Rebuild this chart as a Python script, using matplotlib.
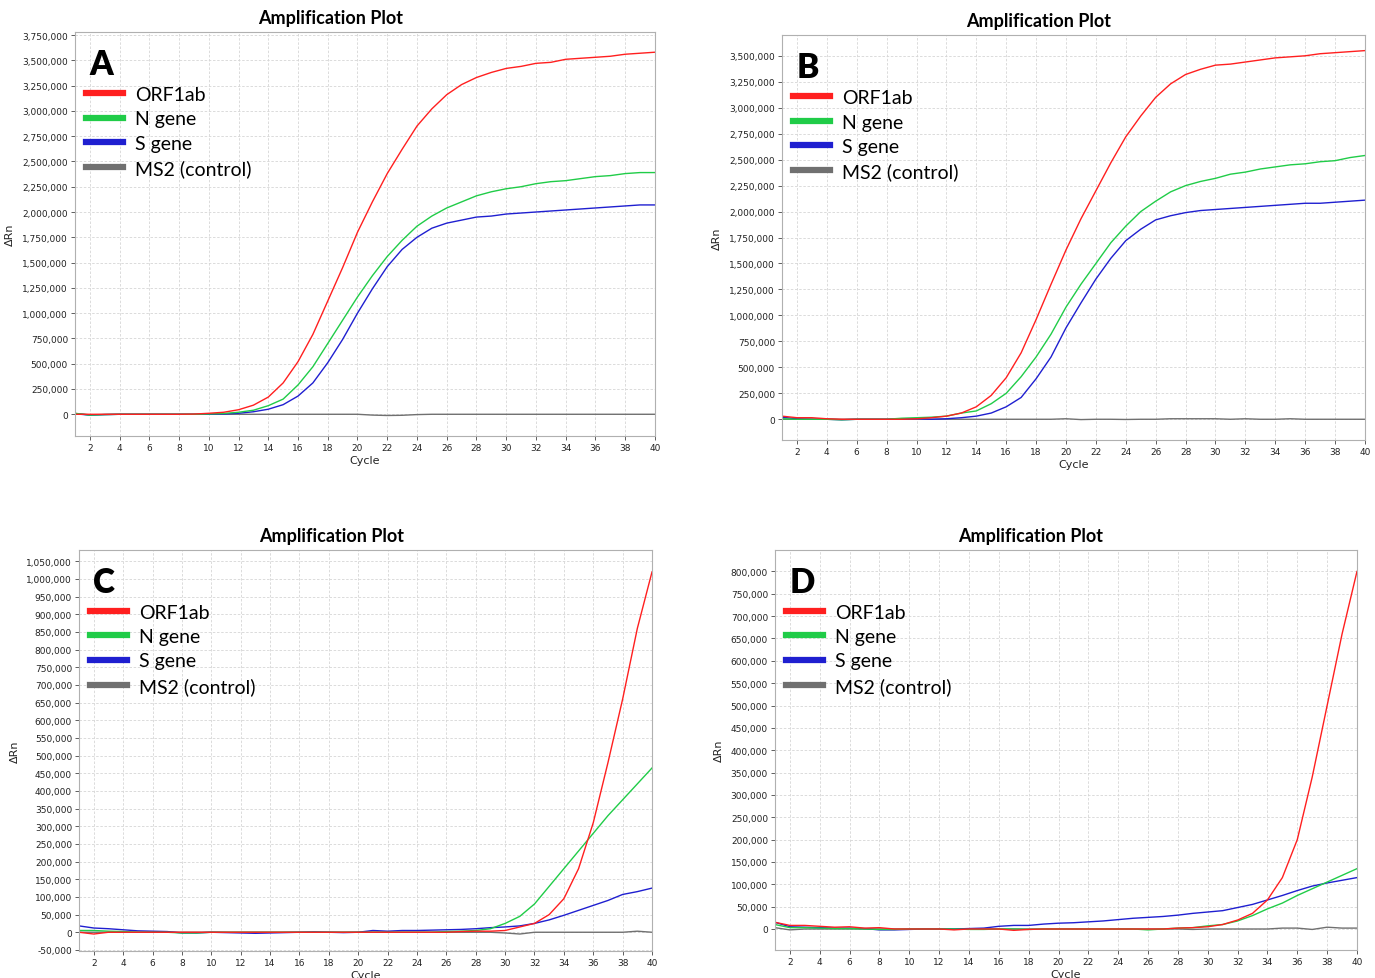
import numpy as np
import matplotlib.pyplot as plt
from matplotlib.lines import Line2D
from matplotlib.ticker import FuncFormatter

cycles = np.arange(1, 41)

# panel A
a_orf = [5, -5, 0, 0, 0, 0, 0, 0, 2000, 10000, 20000, 45000, 90000, 170000, 310000, 520000, 790000, 1120000,
         1450000, 1800000, 2100000, 2380000, 2620000, 2850000, 3020000, 3160000, 3260000, 3330000, 3380000,
         3420000, 3440000, 3470000, 3480000, 3510000, 3520000, 3530000, 3540000, 3560000, 3570000, 3580000]
a_n = [10000, -8000, -3000, 0, 0, 0, 0, 0, 0, 3000, 8000, 20000, 40000, 85000, 150000, 290000, 470000, 700000,
       930000, 1160000, 1370000, 1560000, 1720000, 1860000, 1960000, 2040000, 2100000, 2160000, 2200000,
       2230000, 2250000, 2280000, 2300000, 2310000, 2330000, 2350000, 2360000, 2380000, 2390000, 2390000]
a_s = [5000, -8000, -3000, 0, 0, 0, 0, 0, 0, 0, 3000, 10000, 25000, 50000, 95000, 180000, 310000, 510000,
       740000, 1000000, 1240000, 1460000, 1630000, 1750000, 1840000, 1890000, 1920000, 1950000, 1960000,
       1980000, 1990000, 2000000, 2010000, 2020000, 2030000, 2040000, 2050000, 2060000, 2070000, 2070000]
a_ms2 = [8000, -5000, -2000, 0, 0, 0, 0, 0, 0, 0, 0, 0, 0, 0, 0, 0, 0, 0, 0, 0, -8000, -12000, -10000, -3000,
         0, 0, 0, 0, 0, 0, 0, 0, 0, 0, 0, 0, 0, 0, 0, 0]

# panel B
b_orf = [30000, 15000, 15000, 5000, 0, 0, 0, 0, 0, 5000, 15000, 30000, 60000, 120000, 230000, 400000, 640000,
         960000, 1300000, 1630000, 1930000, 2200000, 2470000, 2720000, 2920000, 3100000, 3230000, 3320000,
         3370000, 3410000, 3420000, 3440000, 3460000, 3480000, 3490000, 3500000, 3520000, 3530000, 3540000, 3550000]
b_n = [5000, 0, 0, 0, -5000, 0, 0, 0, 10000, 15000, 20000, 30000, 60000, 80000, 150000, 250000, 410000, 600000,
       820000, 1080000, 1300000, 1500000, 1700000, 1860000, 2000000, 2100000, 2190000, 2250000, 2290000,
       2320000, 2360000, 2380000, 2410000, 2430000, 2450000, 2460000, 2480000, 2490000, 2520000, 2540000]
b_s = [20000, 5000, 0, 0, -5000, 0, 0, 0, 5000, 5000, 0, 5000, 15000, 30000, 60000, 120000, 210000, 390000,
       600000, 880000, 1120000, 1350000, 1550000, 1720000, 1830000, 1920000, 1960000, 1990000, 2010000,
       2020000, 2030000, 2040000, 2050000, 2060000, 2070000, 2080000, 2080000, 2090000, 2100000, 2110000]
b_ms2 = [0, 0, 0, 0, 0, 0, 0, 0, 0, 0, 0, 0, 0, 0, 0, 0, 0, 0, 0, 5000, -3000, 0, 0, -2000, 0, 0, 5000, 5000,
         5000, 5000, 0, 5000, 0, 0, 5000, 0, 0, 0, 0, 0]

# panel C
c_orf = [0, -5000, 0, 0, 0, 0, 0, 0, 0, 0, 0, 0, 0, 0, 0, 0, 0, 0, 0, 0, 0, 0, 0, 0, 0, 0, 2000, 3000,
         3000, 5000, 15000, 25000, 50000, 95000, 180000, 310000, 480000, 660000, 860000, 1020000]
c_n = [5000, 5000, 3000, 2000, 0, 0, 0, -2000, -2000, 0, 0, 0, 0, 0, 0, 0, 0, 0, 0, 0, 0, 0, 0, 0, 0, 2000,
       3000, 5000, 10000, 25000, 45000, 80000, 130000, 180000, 230000, 280000, 330000, 375000, 420000, 465000]
c_s = [18000, 12000, 10000, 7000, 4000, 3000, 2000, -2000, -2000, 0, -1000, -2000, -3000, -2000, -1000, 0,
       1000, 0, -1000, 0, 5000, 3000, 5000, 5000, 6000, 7000, 8000, 10000, 13000, 15000, 18000, 25000, 35000,
       48000, 62000, 76000, 90000, 107000, 115000, 125000]
c_ms2 = [0, 0, 0, 0, 0, 0, 0, 0, 0, 0, 0, 0, 0, 0, 0, 0, 0, 0, 0, 0, 0, 0, 0, 0, 0, 0, 0, 0, 0, -2000, -5000,
         0, 0, 0, 0, 0, 0, 0, 3000, 0]

# panel D
d_orf = [15000, 8000, 8000, 6000, 4000, 5000, 2000, 3000, 0, 0, 0, 0, -2000, 0, 0, 0, -3000, -1000, 0, 0, 0,
         0, 0, 0, 0, 0, 0, 2000, 3000, 5000, 10000, 20000, 35000, 65000, 115000, 200000, 340000, 500000,
         660000, 800000]
d_n = [10000, 3000, 3000, 2000, 1000, 1000, 0, -1000, -1000, 0, 0, 0, 0, -1000, -1000, 0, 0, -1000, 0, 0, 0,
       0, 0, 0, 0, -2000, 0, 2000, 3000, 7000, 10000, 18000, 30000, 45000, 58000, 75000, 90000, 105000,
       120000, 135000]
d_s = [15000, 5000, 4000, 3000, 2000, 2000, 1000, -2000, -2000, -1000, 0, 0, 0, 1000, 2000, 6000, 8000, 8000,
       11000, 13000, 14000, 16000, 18000, 21000, 24000, 26000, 28000, 31000, 35000, 38000, 41000, 48000,
       55000, 65000, 75000, 86000, 96000, 103000, 109000, 115000]
d_ms2 = [3000, -2000, 0, 0, 0, 0, 0, 0, 0, 0, 0, 0, 0, 0, 0, 0, 0, 0, 0, 0, 0, 0, 0, 0, 0, 0, 0, 0, -1000,
         0, 0, 0, 0, 0, 2000, 2000, -1000, 4000, 2000, 2000]

labels = ["ORF1ab", "N gene", "S gene", "MS2 (control)"]
colors = ["#ff1f1f", "#20cc48", "#1f1fd0", "#707070"]
letters = ["A", "B", "C", "D"]

panels = [
    ([a_orf, a_n, a_s, a_ms2], (-215000, 3780000), 250000, 0, 3750000),
    ([b_orf, b_n, b_s, b_ms2], (-200000, 3700000), 250000, 0, 3500000),
    ([c_orf, c_n, c_s, c_ms2], (-53000, 1082000), 50000, -50000, 1050000),
    ([d_orf, d_n, d_s, d_ms2], (-47000, 848000), 50000, 0, 800000),
]
rects = [
    [0.0545, 0.5536, 0.4218, 0.4127],
    [0.5687, 0.5495, 0.4240, 0.4137],
    [0.0575, 0.0276, 0.4167, 0.4096],
    [0.5636, 0.0286, 0.4233, 0.4086],
]

fig = plt.figure(figsize=(13.75, 9.79), dpi=100)

for i, (series, ylim, step, ymin_tick, ymax_tick) in enumerate(panels):
    ax = fig.add_axes(rects[i])
    for vals, col in zip(series[::-1], colors[::-1]):
        ax.plot(cycles, vals, color=col, lw=1.0)
    ax.set_xlim(1, 40)
    ax.set_ylim(*ylim)
    ax.set_xticks(np.arange(2, 41, 2))
    ax.set_yticks(np.arange(ymin_tick, ymax_tick + 1, step))
    ax.yaxis.set_major_formatter(FuncFormatter(lambda v, p: f"{int(round(v)):,}"))
    ax.tick_params(labelsize=6.5, length=3, width=0.6, pad=2, colors="#444444", labelcolor="#222222")
    ax.grid(True, color="#d6d6d6", linestyle=(0, (3, 2)), lw=0.6)
    for sp in ax.spines.values():
        sp.set_color("#b0b0b0")
        sp.set_linewidth(0.8)
    ax.set_xlabel("Cycle", fontsize=8, labelpad=2, color="#222222")
    ax.set_ylabel("ΔRn", fontsize=8, labelpad=5, color="#222222")
    ax.text(0.44, 1.016, "Amplification Plot", transform=ax.transAxes, ha="center", va="bottom",
            fontsize=13, fontweight="bold", family="Lato")
    ax.text(0.025, 0.96, letters[i], transform=ax.transAxes, ha="left", va="top",
            fontsize=24, fontweight="heavy", family="Lato")
    handles = [Line2D([], [], color=c, lw=4.5) for c in colors]
    ax.legend(handles, labels, loc="upper left", bbox_to_anchor=(-0.005, 0.9), frameon=False,
              prop={"family": "Lato", "size": 14}, handlelength=1.9, handletextpad=0.65,
              labelspacing=0.38, borderaxespad=0.3)

plt.savefig("out.png", dpi=100)
